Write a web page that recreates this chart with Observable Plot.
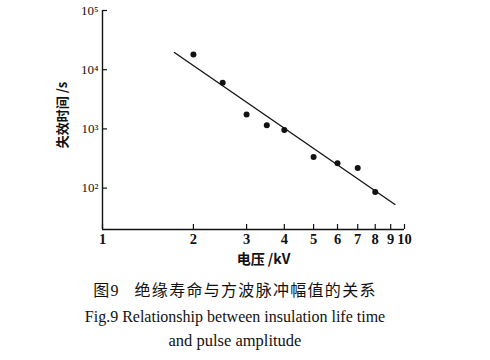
<!DOCTYPE html>
<html><head><meta charset="utf-8">
<script src="https://cdn.jsdelivr.net/npm/d3@7"></script>
<script src="https://cdn.jsdelivr.net/npm/@observablehq/plot@0.6"></script>
<style>
body{margin:0;background:#fff;width:490px;height:360px;overflow:hidden;position:relative;}
.cap{position:absolute;left:0;width:470px;text-align:center;color:#111;white-space:nowrap;line-height:20px;}
#c1{top:279px;font-family:"Noto Sans CJK SC",sans-serif;font-size:16px;letter-spacing:1.3px;}
#c2{top:307px;font-family:"Liberation Serif",serif;font-size:16px;}
#c3{top:331px;font-family:"Liberation Serif",serif;font-size:16.5px;}
</style></head><body>
<div id="chart"></div>
<div class="cap" id="c1">图<span style="font-family:'Liberation Serif',serif">9</span>&nbsp;&nbsp;&nbsp;绝缘寿命与方波脉冲幅值的关系</div>
<div class="cap" id="c2">Fig.9 Relationship between insulation life time</div>
<div class="cap" id="c3">and pulse amplitude</div>
<script>
const voltage = [2, 2.5, 3, 3.5, 4, 5, 6, 7, 8];
const lifetime = [18000, 6000, 1750, 1150, 960, 335, 262, 218, 86];
const fitVoltage = [1.73, 9.3];
const fitLifetime = [19500, 53];
const xTicks = [1, 2, 3, 4, 5, 6, 7, 8, 9, 10];
const yTicks = [100, 1000, 10000, 100000];
const yTickLabels = ["10²", "10³", "10⁴", "10⁵"];
const xLabel = "电压 /kV";
const yLabel = "失效时间 /s";

const pts = voltage.map((v, i) => ({v, t: lifetime[i]}));
const fit = fitVoltage.map((v, i) => ({v, t: fitLifetime[i]}));

const W = 490, H = 270, mL = 102, mR = 86, mT = 10, mB = 41, tick = 5;
const frameW = W - mL - mR, frameH = H - mT - mB;

const chart = Plot.plot({
  width: W, height: H,
  marginLeft: mL, marginRight: mR, marginTop: mT, marginBottom: mB,
  style: {fontFamily: "'Liberation Serif', serif", fontSize: "14px", color: "#111", background: "#fff"},
  x: {type: "log", domain: [1, 10]},
  y: {type: "log", domain: [20, 100000]},
  marks: [
    Plot.axisX({ticks: xTicks, tickFormat: d => String(d), tickSize: 0, tickPadding: 4, label: null, fontWeight: "bold", fontSize: 14.5}),
    Plot.axisY({ticks: yTicks, tickFormat: d => yTickLabels[yTicks.indexOf(d)], tickSize: 0, tickPadding: 4, label: null, fontSize: 13}),
    Plot.ruleX(xTicks, {x: d => d, insetTop: frameH - tick, stroke: "#111", strokeWidth: 1.2}),
    Plot.ruleY(yTicks, {y: d => d, insetRight: frameW - tick, stroke: "#111", strokeWidth: 1.2}),
    Plot.ruleY([20], {stroke: "#111", strokeWidth: 1.4}),
    Plot.ruleX([1], {y1: 20, y2: 100000, stroke: "#111", strokeWidth: 1.4}),
    Plot.line(fit, {x: "v", y: "t", stroke: "#111", strokeWidth: 1.3}),
    Plot.dot(pts, {x: "v", y: "t", r: 3, fill: "#111", stroke: "none"}),
    Plot.text([xLabel], {frameAnchor: "bottom", textAnchor: "middle", lineAnchor: "bottom", dx: 10, dy: 34, fontFamily: "'Noto Sans CJK SC', sans-serif", fontWeight: "bold", fontSize: 14, fill: "#111"}),
    Plot.text([yLabel], {frameAnchor: "left", textAnchor: "middle", lineAnchor: "middle", dx: -40, dy: -5, rotate: -90, fontFamily: "'Noto Sans CJK SC', sans-serif", fontWeight: "bold", fontSize: 13, fill: "#111"})
  ]
});
document.getElementById("chart").appendChild(chart);
</script>
</body></html>
